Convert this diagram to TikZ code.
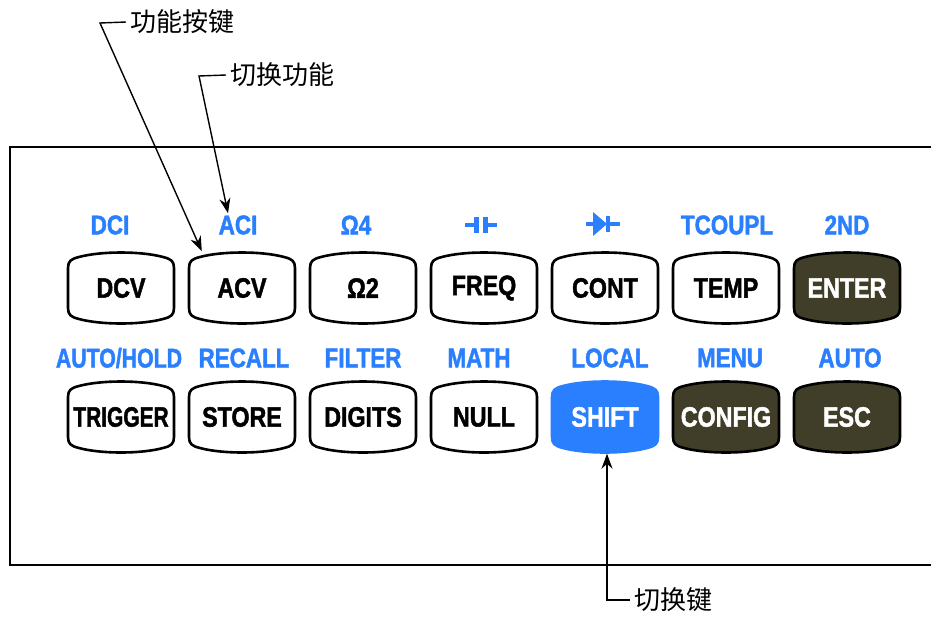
\documentclass[tikz,border=0pt]{standalone}
\usepackage{fontspec}
\usepackage{graphicx}
\setmainfont{Liberation Sans}
\newfontfamily\keyfont{Liberation Sans}[FakeStretch=0.83,
  BoldFont={Liberation Sans Bold}, BoldFeatures={FakeBold=1.6}]
\newfontfamily\cnfont{Noto Sans CJK SC}
\usetikzlibrary{arrows.meta}
\definecolor{keyblue}{RGB}{42,127,255}
\definecolor{keyolive}{RGB}{64,62,40}
\begin{document}
\begin{tikzpicture}[x=1pt,y=-1pt,
    keyrim/.style={line width=2.6pt, line join=round},
    keytext/.style={font=\keyfont\bfseries\fontsize{28}{30}\selectfont,
      minimum width=106pt, minimum height=73pt, inner sep=0pt},
    bluetext/.style={font=\keyfont\bfseries\fontsize{27}{29}\selectfont,
      text=keyblue, inner sep=2pt},
    cntext/.style={font=\cnfont\fontsize{26}{28}\selectfont, inner sep=4pt},
    callout/.style={line width=1.4pt, -{Stealth[length=15pt,width=11pt]}}]
  \useasboundingbox (0,0) rectangle (931,616);
  % panel frame, open to the right
  \draw[line width=2pt] (931,147) -| (10,565) -- (931,565);
  % keys
  \foreach \name/\x/\y/\lab/\bg/\rim/\fg in {
      dcv/121/288/DCV/white/black/black,
      acv/242/288/ACV/white/black/black,
      omtwo/363/288/Ω2/white/black/black,
      freq/484/288/FREQ/white/black/black,
      cont/605/288/CONT/white/black/black,
      temp/726/288/TEMP/white/black/black,
      enter/847/288/ENTER/keyolive/black/white,
      trigger/121/417/{\scalebox{0.9}[1]{TRIGGER}}/white/black/black,
      store/242/417/STORE/white/black/black,
      digits/363/417/DIGITS/white/black/black,
      null/484/417/NULL/white/black/black,
      shiftkey/605/417/SHIFT/keyblue/keyblue/white,
      config/726/417/CONFIG/keyolive/black/white,
      esc/847/417/ESC/keyolive/black/white} {
    \draw[keyrim, draw=\rim, fill=\bg, shift={(\x,\y)}]
      (-53,-20) .. controls (-53,-27) and (-50,-29) .. (-42,-31)
      .. controls (-20,-37) and (20,-37) .. (42,-31)
      .. controls (50,-29) and (53,-27) .. (53,-20) -- (53,20)
      .. controls (53,27) and (50,29) .. (42,31)
      .. controls (20,37) and (-20,37) .. (-42,31)
      .. controls (-50,29) and (-53,27) .. (-53,20) -- cycle;
    \node[keytext, text=\fg] (\name) at (\x,\y) {\lab};
  }
  % shifted functions
  \foreach \name/\x/\y/\lab in {
      dci/110/225/DCI, aci/238/225/ACI, omfour/356/225/Ω4,
      tcoupl/727/225/TCOUPL, second/847/225/2ND,
      autohold/119/358/{\scalebox{0.95}[1]{AUTO/HOLD}},
      recall/244/358/RECALL, filter/363/358/FILTER, math/479/358/MATH,
      local/610/358/LOCAL, menu/730/358/MENU, auto/850/358/AUTO} {
    \node[bluetext] (\name) at (\x,\y) {\lab};
  }
  % capacitor and diode signs
  \coordinate (cap) at (481,225);
  \coordinate (diode) at (603,224);
  \begin{scope}[shift={(cap)}]
    \fill[keyblue] (-16,-2) rectangle (-6,2);
    \fill[keyblue] (-7,-8) rectangle (-2,8);
    \fill[keyblue] (2,-8) rectangle (7,8);
    \fill[keyblue] (6,-2) rectangle (16,2);
  \end{scope}
  \begin{scope}[shift={(diode)}]
    \fill[keyblue] (-17,-2) rectangle (-9,2);
    \fill[keyblue] (-10,-12) -- (-10,12) -- (4,0) -- cycle;
    \fill[keyblue] (3,-8) rectangle (7,8);
    \fill[keyblue] (6,-2) rectangle (17,2);
  \end{scope}
  % callouts
  \node[cntext, anchor=west] (gnaj) at (126,22) {功能按键};
  \coordinate (gnaj-bend) at (100,23);
  \draw[callout] (gnaj.west) -- (gnaj-bend) -- ([xshift=13pt]acv.north west);
  \node[cntext, anchor=west] (qhgn) at (226,75) {切换功能};
  \coordinate (qhgn-bend) at (199,76);
  \draw[callout] (qhgn.west) -- (qhgn-bend) -- ([xshift=-10pt]aci.north);
  \node[cntext, anchor=west] (qhj) at (630,600) {切换键};
  \draw[callout] (qhj.west) -| ([xshift=2pt]shiftkey.south);
\end{tikzpicture}
\end{document}
